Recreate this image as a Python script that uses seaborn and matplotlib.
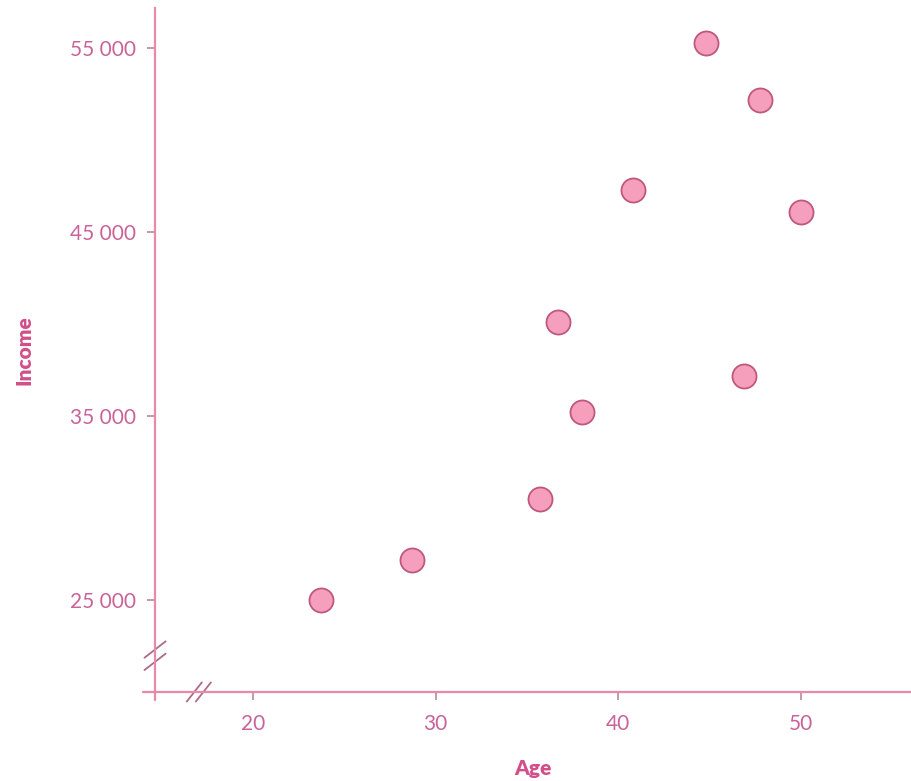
from matplotlib import pyplot as plt
from matplotlib.ticker import FuncFormatter
import pandas as pd
import seaborn as sns

# data
age = [23.7, 28.7, 35.7, 38.0, 36.7, 46.9, 40.8, 44.8, 47.8, 50.0]
income = [25000, 27200, 30500, 35200, 40100, 37200, 47300, 55300, 52200, 46100]
x_ticks = [20, 30, 40, 50]
y_ticks = [25000, 35000, 45000, 55000]

df = pd.DataFrame({'Age': age, 'Income': income})

pink_axis = '#e889aa'
pink_text = '#c9639a'
pink_fill = '#f59fbd'
pink_edge = '#c0577f'

sns.set_style('white')
plt.rcParams['font.family'] = ['Lato', 'DejaVu Sans']

fig = plt.figure(figsize=(9.12, 7.81), dpi=100)
ax = fig.add_axes([0.170, 0.114, 0.828, 0.876])

sns.scatterplot(data=df, x='Age', y='Income', s=300, color=pink_fill,
                edgecolor=pink_edge, linewidth=1.3, ax=ax, zorder=3)

ax.set_xlim(14.63, 56.0)
ax.set_ylim(20000, 57200)
ax.set_xticks(x_ticks)
ax.set_yticks(y_ticks)
ax.yaxis.set_major_formatter(FuncFormatter(lambda v, p: f'{int(v):,}'.replace(',', ' ')))

for side in ['top', 'right']:
    ax.spines[side].set_visible(False)
for side in ['left', 'bottom']:
    ax.spines[side].set_color(pink_axis)
    ax.spines[side].set_linewidth(1.6)

ax.tick_params(axis='both', which='major', direction='out', length=6, width=1.2,
               bottom=True, left=True,
               color='#b98a9c', labelcolor=pink_text, labelsize=15, pad=10)
ax.tick_params(axis='y', pad=8)

ax.set_xlabel('Age', fontsize=15, fontweight='heavy', color='#d24f8a', labelpad=18)
ax.set_ylabel('Income', fontsize=15, fontweight='heavy', color='#d24f8a', labelpad=26)

# small overhangs of the axis lines
ax.plot([-0.016, 0], [0, 0], transform=ax.transAxes, color=pink_axis, lw=1.6, clip_on=False)
ax.plot([0, 0], [-0.012, 0], transform=ax.transAxes, color=pink_axis, lw=1.6, clip_on=False)

# axis break marks
for dx in [0, 0.012]:
    ax.plot([0.042 + dx, 0.062 + dx], [-0.014, 0.014], transform=ax.transAxes,
            color='#b06a88', lw=1.3, clip_on=False)
for dy in [0, 0.018]:
    ax.plot([-0.014, 0.014], [0.032 + dy, 0.056 + dy], transform=ax.transAxes,
            color='#b06a88', lw=1.3, clip_on=False)

plt.savefig('out.png', dpi=100)
